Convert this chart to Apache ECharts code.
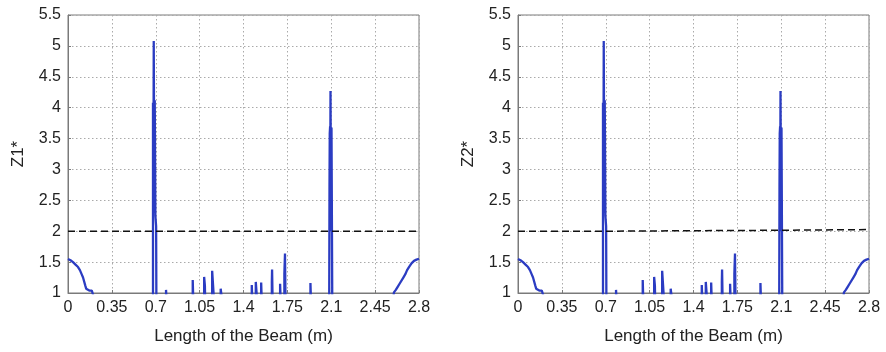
<!DOCTYPE html>
<html>
<head>
<meta charset="utf-8">
<script src="https://cdn.jsdelivr.net/npm/echarts@6/dist/echarts.min.js"></script>
<style>
html,body{margin:0;padding:0;background:#fff;}
#chart{width:886px;height:352px;}
</style>
</head>
<body>
<div id="chart"></div>
<script>
// ---- data ----
const xTickValues = [0, 0.35, 0.7, 1.05, 1.4, 1.75, 2.1, 2.45, 2.8];
const yTickValues = [1, 1.5, 2, 2.5, 3, 3.5, 4, 4.5, 5, 5.5];

// Beam positions (m) of the damage-index trace
const beamX = [
  0, 0.02, 0.04, 0.06, 0.08, 0.095, 0.105, 0.112, 0.12, 0.13, 0.138, 0.145, 0.155, 0.17, 0.19, 0.205, 0.21,
  0.678, 0.678, 0.681, 0.681, 0.684, 0.684, 0.689, 0.689, 0.692, 0.692, 0.695, 0.697, 0.703, 0.705,
  0.782, 0.782, 0.786, 0.786,
  0.995, 0.995, 0.999, 0.999,
  1.086, 1.086, 1.090, 1.092, 1.094,
  1.150, 1.150, 1.154, 1.158, 1.162, 1.164,
  1.218, 1.218, 1.228, 1.228,
  1.466, 1.466, 1.470, 1.470,
  1.498, 1.498, 1.508, 1.508,
  1.541, 1.541, 1.545, 1.545,
  1.626, 1.626, 1.628, 1.632, 1.632,
  1.692, 1.692, 1.696, 1.696,
  1.726, 1.726, 1.730, 1.731, 1.735, 1.735,
  1.934, 1.934, 1.938, 1.938,
  2.084, 2.084, 2.086, 2.088, 2.091, 2.091, 2.094, 2.094, 2.099, 2.099, 2.102, 2.102, 2.105, 2.108,
  2.595, 2.600, 2.615, 2.630, 2.645, 2.660, 2.675, 2.690, 2.705, 2.720, 2.740, 2.760, 2.780, 2.800
];
// Z1* values at those positions (values under 1 fall below the axis)
const z1Values = [
  1.55, 1.53, 1.50, 1.46, 1.42, 1.37, 1.34, 1.29, 1.25, 1.22, 1.12, 1.07, 1.05, 1.04, 1.04, 1.02, 0.9,
  0.9, 4.08, 4.10, 2.3, 2.3, 5.08, 5.08, 2.3, 2.3, 4.12, 4.12, 2.25, 2.08, 0.9,
  0.9, 1.05, 1.05, 0.9,
  0.9, 1.21, 1.21, 0.9,
  0.9, 1.26, 1.26, 1.12, 0.9,
  0.9, 1.36, 1.36, 1.10, 1.08, 0.9,
  0.9, 1.07, 1.07, 0.9,
  0.9, 1.13, 1.13, 0.9,
  0.9, 1.18, 1.18, 0.9,
  0.9, 1.17, 1.17, 0.9,
  0.9, 1.18, 1.38, 1.38, 0.9,
  0.9, 1.15, 1.15, 0.9,
  0.9, 1.31, 1.31, 1.64, 1.64, 0.9,
  0.9, 1.16, 1.16, 0.9,
  0.9, 1.08, 2.75, 3.58, 3.70, 2.0, 2.0, 4.27, 4.27, 2.0, 2.0, 3.68, 3.68, 0.9,
  0.9, 1.01, 1.05, 1.10, 1.15, 1.18, 1.25, 1.30, 1.37, 1.42, 1.48, 1.52, 1.54, 1.555
];
// Z2* values (same trace)
const z2Values = z1Values.slice();

// Threshold lines
const threshold1X = [0, 2.8];
const threshold1Y = [2, 2];
const threshold2X = [0, 0.7, 0.7, 2.1, 2.1, 2.8];
const threshold2Y = [2, 2, 2.016, 2.016, 2.027, 2.027];

const yNames = ['Z1*', 'Z2*'];
const xName = 'Length of the Beam (m)';

// ---- chart ----
const zip = (xs, ys) => xs.map((x, i) => [x, ys[i]]);
const FONT = 'Liberation Sans, Arial, sans-serif';
const lineColor = '#2b3cc2';

function xAxis(idx) {
  return {
    gridIndex: idx, type: 'value', min: 0, max: 2.8, interval: 0.35,
    name: xName, nameLocation: 'middle', nameGap: 35,
    nameTextStyle: { fontFamily: FONT, fontSize: 17, color: '#222' },
    axisLine: { show: true, lineStyle: { color: '#7a7a7a' } },
    axisTick: { show: true, inside: true, length: 3, lineStyle: { color: '#7a7a7a' } },
    axisLabel: {
      fontFamily: FONT, fontSize: 16, color: '#222', margin: 7,
      formatter: v => { const t = xTickValues.find(a => Math.abs(a - v) < 1e-6); return t === undefined ? '' : String(t); }
    },
    splitLine: { show: true, lineStyle: { color: '#aaaaaa', type: [1.5, 2.5], width: 1 } }
  };
}
function yAxis(idx) {
  return {
    gridIndex: idx, type: 'value', min: 1, max: 5.5, interval: 0.5,
    name: yNames[idx], nameLocation: 'middle', nameGap: 41,
    nameTextStyle: { fontFamily: FONT, fontSize: 17, color: '#222' },
    axisLine: { show: true, lineStyle: { color: '#7a7a7a' } },
    axisTick: { show: true, inside: true, length: 3, lineStyle: { color: '#7a7a7a' } },
    axisLabel: {
      fontFamily: FONT, fontSize: 16, color: '#222', margin: 7,
      formatter: v => { const t = yTickValues.find(a => Math.abs(a - v) < 1e-6); return t === undefined ? '' : String(t); }
    },
    splitLine: { show: true, lineStyle: { color: '#aaaaaa', type: [1.5, 2.5], width: 1 } }
  };
}

const chart = echarts.init(document.getElementById('chart'), null, { renderer: 'canvas' });
chart.setOption({
  animation: false,
  backgroundColor: '#ffffff',
  grid: [
    { left: 68, right: 467, top: 15, bottom: 59, show: true, borderColor: '#7a7a7a', borderWidth: 1, backgroundColor: 'transparent' },
    { left: 518, right: 17, top: 15, bottom: 59, show: true, borderColor: '#7a7a7a', borderWidth: 1, backgroundColor: 'transparent' }
  ],
  xAxis: [xAxis(0), xAxis(1)],
  yAxis: [yAxis(0), yAxis(1)],
  series: [
    { type: 'line', xAxisIndex: 0, yAxisIndex: 0, data: zip(beamX, z1Values), showSymbol: false, clip: true,
      lineStyle: { color: lineColor, width: 2.3 }, z: 3 },
    { type: 'line', xAxisIndex: 0, yAxisIndex: 0, data: zip(threshold1X, threshold1Y), showSymbol: false,
      lineStyle: { color: '#111', width: 1.5, type: [7, 4] }, z: 4 },
    { type: 'line', xAxisIndex: 1, yAxisIndex: 1, data: zip(beamX, z2Values), showSymbol: false, clip: true,
      lineStyle: { color: lineColor, width: 2.3 }, z: 3 },
    { type: 'line', xAxisIndex: 1, yAxisIndex: 1, data: zip(threshold2X, threshold2Y), showSymbol: false,
      lineStyle: { color: '#111', width: 1.5, type: [7, 4] }, z: 4 }
  ]
});
</script>
</body>
</html>
